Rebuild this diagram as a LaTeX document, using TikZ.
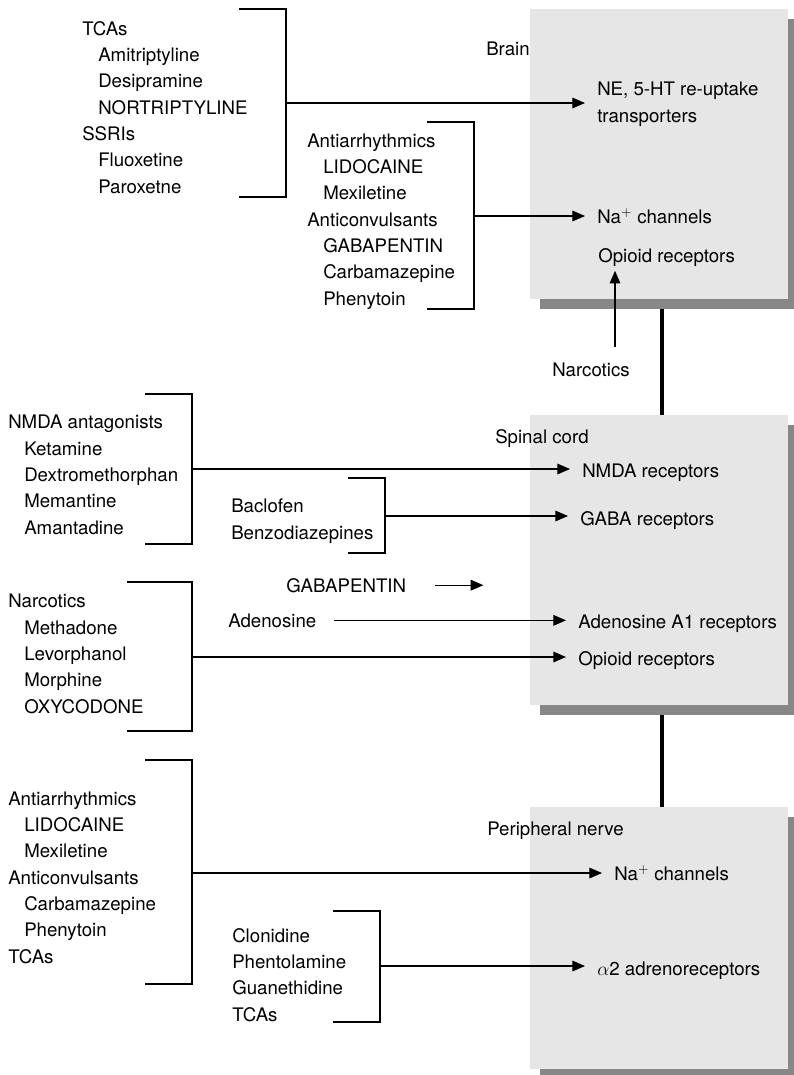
\documentclass[tikz,border=0pt]{standalone}
\usepackage{fontspec}
\setmainfont{TeX Gyre Heros}
\usetikzlibrary{positioning,arrows.meta,shadows,backgrounds}
\definecolor{SiteGray}{HTML}{E6E6E6}
\definecolor{ShadeGray}{HTML}{878787}
\newcommand{\drugind}{\hspace*{12pt}}

\begin{document}
\begin{tikzpicture}[x=0.75pt,y=-0.75pt,
    font=\fontsize{14}{19.7}\selectfont,
    site/.style={draw=none,fill=SiteGray,minimum width=193.5pt,inner sep=0pt,anchor=north west,
      drop shadow={shadow xshift=7.5pt,shadow yshift=-7.5pt,fill=ShadeGray,opacity=1}},
    druglist/.style={align=left,anchor=base west,inner sep=0pt},
    target/.style={align=left,anchor=base west,inner xsep=9pt},
    bracket/.style={line width=0.8pt},
    arr/.style={-{Triangle[length=9.5pt,width=8pt]},line width=0.8pt},
    spine/.style={line width=3pt}
  ]
    \useasboundingbox (0,0) rectangle (793,1075);

    % sites (lists are placed by the baseline of their last line)
    \node[site,minimum height=217.5pt] (brain) at (530,9) {};
    \node[site,minimum height=217.5pt] (spinal) at (530,415) {};
    \node[site,minimum height=196.5pt] (periph) at (530,807) {};

    \begin{scope}[on background layer]
      \draw[spine] ([xshift=2.25pt]brain.south) -- ([xshift=2.25pt]spinal.north);
      \draw[spine] ([xshift=2.25pt]spinal.south) -- ([xshift=2.25pt]periph.north);
    \end{scope}

    \node[druglist] (brainlab) at (486,55) {Brain};
    \node[druglist] (spinallab) at (495,443) {Spinal cord};
    \node[druglist] (periphlab) at (487,835) {Peripheral nerve};

    % brain
    \node[druglist] (tcalist) at (82,193) {TCAs\\\drugind Amitriptyline\\\drugind Desipramine\\\drugind NORTRIPTYLINE\\SSRIs\\\drugind Fluoxetine\\\drugind Paroxetne};
    \node[druglist] (nalist) at (307,305) {Antiarrhythmics\\\drugind LIDOCAINE\\\drugind Mexiletine\\Anticonvulsants\\\drugind GABAPENTIN\\\drugind Carbamazepine\\\drugind Phenytoin};
    \node[druglist] (narclab) at (552,376) {Narcotics};

    \node[target] (neht) at (585,122) {NE, 5-HT re-uptake\\transporters};
    \node[target] (brainna) at (585,223) {Na$^{+}$ channels};
    \node[target] (brainop) at (586,262) {Opioid receptors};

    \draw[bracket] (239,9) -| (286,197) -- (239,197);
    \draw[bracket] (427,122) -| (474,309) -- (427,309);
    \coordinate (tcamid) at (286,103);
    \coordinate (namid) at (474,216);
    \coordinate (narcup) at (615,347);

    \draw[arr] (tcamid) -- (tcamid -| neht.west);
    \draw[arr] (namid) -- (namid -| brainna.west);
    \draw[arr] (narcup) -- (narcup |- brainop.south);

    % spinal cord
    \node[druglist] (nmdalist) at (8,534) {NMDA antagonists\\\drugind Ketamine\\\drugind Dextromethorphan\\\drugind Memantine\\\drugind Amantadine};
    \node[druglist] (gabalist) at (231,539) {Baclofen\\Benzodiazepines};
    \node[druglist] (gabapentin) at (286,592) {GABAPENTIN};
    \node[druglist] (adenosine) at (228,627) {Adenosine};
    \node[druglist] (narclist) at (8,713) {Narcotics\\\drugind Methadone\\\drugind Levorphanol\\\drugind Morphine\\\drugind OXYCODONE};

    \node[target] (nmdarec) at (570,477) {NMDA receptors};
    \node[target] (gabarec) at (568,525) {GABA receptors};
    \node[target] (adenrec) at (566,628) {Adenosine A1 receptors};
    \node[target] (spinop) at (566,665) {Opioid receptors};

    \draw[bracket] (145,394) -| (192,544) -- (145,544);
    \draw[bracket] (348,478) -| (385,553) -- (348,553);
    \draw[bracket] (127,582) -| (192,731) -- (127,731);
    \coordinate (nmdamid) at (192,469);
    \coordinate (gabamid) at (385,516);
    \coordinate (narcmid) at (192,657);

    \draw[arr] (nmdamid) -- (nmdamid -| nmdarec.west);
    \draw[arr] (gabamid) -- (gabamid -| gabarec.west);
    \draw[arr] ([xshift=21.75pt]gabapentin.east) -- ++(48,0);
    \draw[arr] ([xshift=12.75pt]adenosine.east) -- (adenosine.east -| adenrec.west);
    \draw[arr] (narcmid) -- (narcmid -| spinop.west);

    % peripheral nerve
    \node[druglist] (pnalist) at (8,963) {Antiarrhythmics\\\drugind LIDOCAINE\\\drugind Mexiletine\\Anticonvulsants\\\drugind Carbamazepine\\\drugind Phenytoin\\TCAs};
    \node[druglist] (alphalist) at (232,1021) {Clonidine\\Phentolamine\\Guanethidine\\TCAs};

    \node[target] (pna) at (602,880) {Na$^{+}$ channels};
    \node[target] (alpharec) at (585,975) {$\alpha$2 adrenoreceptors};

    \draw[bracket] (145,760) -| (192,984) -- (145,984);
    \draw[bracket] (333,911) -| (380,1022) -- (333,1022);
    \coordinate (pnamid) at (192,873);
    \coordinate (alphamid) at (380,966);

    \draw[arr] (pnamid) -- (pnamid -| pna.west);
    \draw[arr] (alphamid) -- (alphamid -| alpharec.west);
  \end{tikzpicture}
\end{document}
